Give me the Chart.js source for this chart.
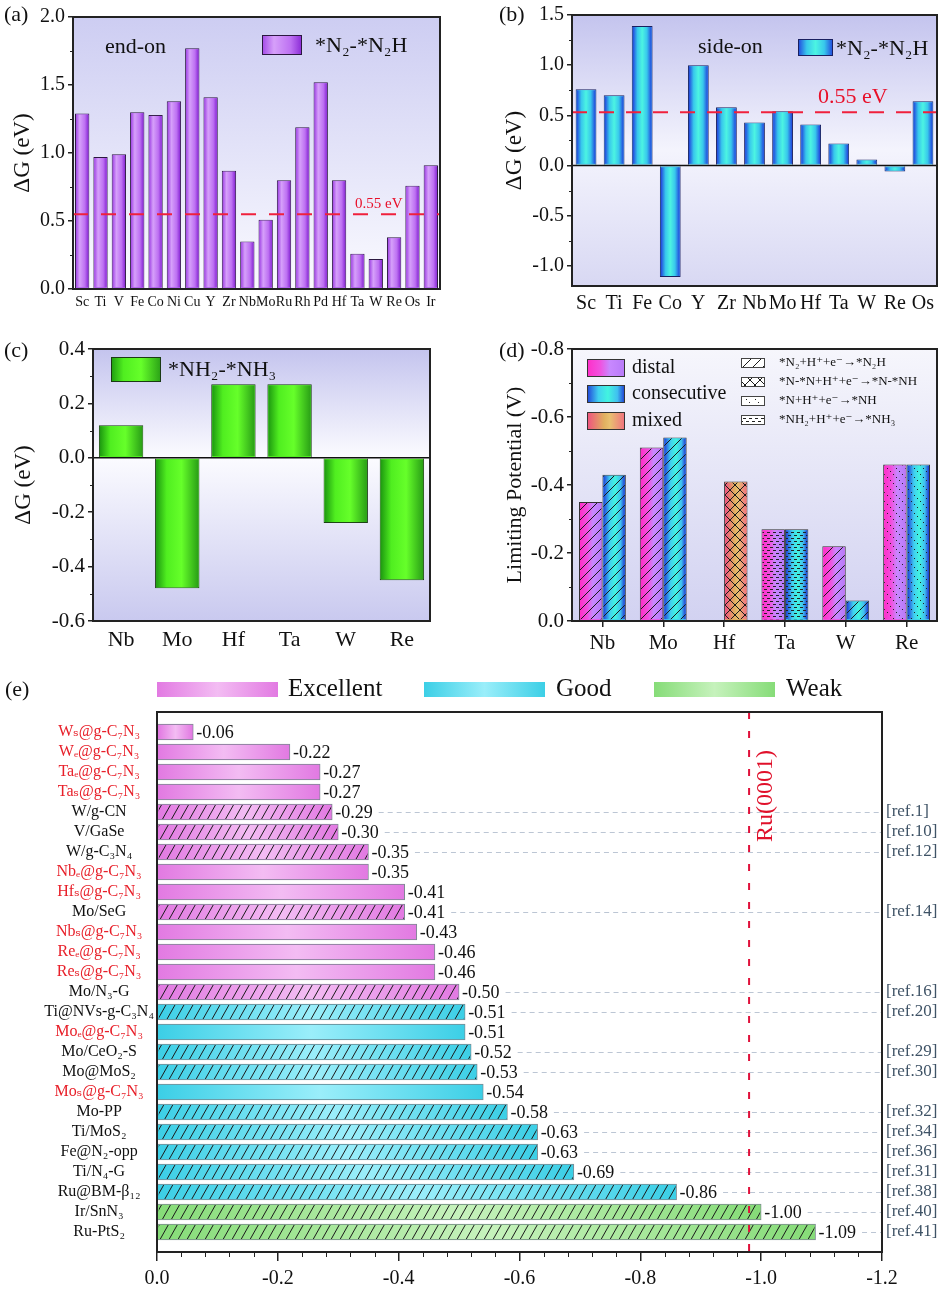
<!DOCTYPE html>
<html><head><meta charset="utf-8">
<script src="https://cdn.jsdelivr.net/npm/chart.js@4.4.1/dist/chart.umd.min.js"></script>
<style>
html,body{margin:0;padding:0;background:#fff;}
body{width:942px;height:1289px;position:relative;overflow:hidden;}
canvas{position:absolute;display:block;}
.pl{position:absolute;font-family:'Liberation Serif','DejaVu Serif',serif;font-size:22px;line-height:22px;color:#111;}
</style></head>
<body>
<canvas id="ca" width="470" height="320" style="left:0;top:0"></canvas>
<canvas id="cb" width="472" height="320" style="left:470px;top:0"></canvas>
<canvas id="cc" width="470" height="330" style="left:0;top:330px"></canvas>
<canvas id="cd" width="472" height="330" style="left:470px;top:330px"></canvas>
<canvas id="ce" width="942" height="629" style="left:0;top:660px"></canvas>
<div class="pl" style="left:4px;top:3px">(a)</div>
<div class="pl" style="left:499px;top:3px">(b)</div>
<div class="pl" style="left:4px;top:339px">(c)</div>
<div class="pl" style="left:499px;top:339px">(d)</div>
<div class="pl" style="left:5px;top:678px">(e)</div>
<script>
// ---------------- DATA ----------------
// (a) end-on  *N2-*N2H
const catA = ['Sc','Ti','V','Fe','Co','Ni','Cu','Y','Zr','Nb','Mo','Ru','Rh','Pd','Hf','Ta','W','Re','Os','Ir'];
const valA = [1.29,0.97,0.99,1.30,1.28,1.38,1.77,1.41,0.87,0.35,0.51,0.80,1.19,1.52,0.80,0.26,0.22,0.38,0.76,0.91];
const refLineA = 0.55;
// (b) side-on *N2-*N2H
const catB = ['Sc','Ti','Fe','Co','Y','Zr','Nb','Mo','Hf','Ta','W','Re','Os'];
const valB = [0.76,0.70,1.39,-1.11,1.00,0.58,0.43,0.54,0.41,0.22,0.06,-0.06,0.64];
const refLineB = 0.53;
// (c) *NH2-*NH3
const catC = ['Nb','Mo','Hf','Ta','W','Re'];
const valC = [0.12,-0.48,0.27,0.27,-0.24,-0.45];
// (d) limiting potential
const catD = ['Nb','Mo','Hf','Ta','W','Re'];
const distalD = [-0.35,-0.51,null,-0.27,-0.22,-0.46];
const consecD = [-0.43,-0.54,null,-0.27,-0.06,-0.46];
const mixedD  = [null,null,-0.41,null,null,null];
const stepDistal = ['N2H','N2H',null,'NH3','N2H','NH'];
const stepConsec = ['N2H','N2H',null,'NH3','N2H','NH'];
const stepMixed  = [null,null,'NNH',null,null,null];
const stepNames = ['*N₂+H⁺+e⁻→*N₂H','*N-*N+H⁺+e⁻→*N-*NH','*N+H⁺+e⁻→*NH','*NH₂+H⁺+e⁻→*NH₃'];
const stepKeys  = ['N2H','NNH','NH','NH3'];
// (e) comparison
const catE = ['Wₛ@g-C₇N₃','Wₑ@g-C₇N₃','Taₑ@g-C₇N₃','Taₛ@g-C₇N₃','W/g-CN','V/GaSe','W/g-C₃N₄','Nbₑ@g-C₇N₃','Hfₛ@g-C₇N₃','Mo/SeG','Nbₛ@g-C₇N₃','Reₑ@g-C₇N₃','Reₛ@g-C₇N₃','Mo/N₃-G','Ti@NVs-g-C₃N₄','Moₑ@g-C₇N₃','Mo/CeO₂-S','Mo@MoS₂','Moₛ@g-C₇N₃','Mo-PP','Ti/MoS₂','Fe@N₂-opp','Ti/N₄-G','Ru@BM-β₁₂','Ir/SnN₃','Ru-PtS₂'];
const valE = [-0.06,-0.22,-0.27,-0.27,-0.29,-0.30,-0.35,-0.35,-0.41,-0.41,-0.43,-0.46,-0.46,-0.50,-0.51,-0.51,-0.52,-0.53,-0.54,-0.58,-0.63,-0.63,-0.69,-0.86,-1.00,-1.09];
const refE = ['','','','','ref.1','ref.10','ref.12','','','ref.14','','','','ref.16','ref.20','','ref.29','ref.30','','ref.32','ref.34','ref.36','ref.31','ref.38','ref.40','ref.41'];
const gradeE = ['Excellent','Excellent','Excellent','Excellent','Excellent','Excellent','Excellent','Excellent','Excellent','Excellent','Excellent','Excellent','Excellent','Excellent','Good','Good','Good','Good','Good','Good','Good','Good','Good','Good','Weak','Weak'];
const gradeNames = ['Excellent','Good','Weak'];
const ru0001 = -0.98;
const ticksE = [0,-0.2,-0.4,-0.6,-0.8,-1.0,-1.2];

// ---------------- STYLE / HELPERS ----------------
const FONT = "'Liberation Serif','DejaVu Serif',serif";
Chart.defaults.font.family = FONT;
Chart.defaults.color = '#111';
const fmt1 = v => (Math.abs(v) < 1e-9 ? 0 : v).toFixed(1);

function grad(ctx,x0,y0,x1,y1,stops){const g=ctx.createLinearGradient(x0,y0,x1,y1);stops.forEach(s=>g.addColorStop(s[0],s[1]));return g;}
function txt(ctx,s,x,y,font,color,align,base){ctx.save();ctx.font=font;ctx.fillStyle=color;ctx.textAlign=align||'left';ctx.textBaseline=base||'middle';ctx.fillText(s,x,y);ctx.restore();}
function gbox(ctx,x,y,w,h,stops,border,pat){ctx.save();ctx.fillStyle=stops?grad(ctx,x,0,x+w,0,stops):'#fff';ctx.fillRect(x,y,w,h);if(pat){ctx.fillStyle=getPat(ctx,pat);ctx.fillRect(x,y,w,h);}ctx.strokeStyle=border;ctx.lineWidth=1;ctx.strokeRect(x+0.5,y+0.5,w-1,h-1);ctx.restore();}

const PATS = {
  slashE:{w:9,h:16,lw:1,c:'#1a1a1a',kind:'/'},
  slash:{w:10,h:10,lw:1,c:'#1a1a1a',kind:'/'},
  cross:{w:10,h:10,lw:1,c:'#1a1a1a',kind:'x'},
  dotback:{w:9,h:9,lw:1,c:'#222',kind:'d\\'},
  dotrow:{w:6,h:6,lw:1,c:'#222',kind:'-'}
};
const stepPat = {N2H:'slash',NNH:'cross',NH:'dotback',NH3:'dotrow'};
const patCache = new Map();
function getPat(ctx,name){
  if(patCache.has(name)) return patCache.get(name);
  const d=PATS[name]; const c=document.createElement('canvas'); c.width=d.w; c.height=d.h;
  const g=c.getContext('2d'); const w=d.w,h=d.h;
  g.strokeStyle=d.c; g.fillStyle=d.c; g.lineWidth=d.lw;
  if(d.kind==='/'||d.kind==='x'){g.beginPath();for(const dx of [-w,0,w]){g.moveTo(dx,h);g.lineTo(dx+w,0);}g.stroke();}
  if(d.kind==='x'){g.beginPath();for(const dx of [-w,0,w]){g.moveTo(dx,0);g.lineTo(dx+w,h);}g.stroke();}
  if(d.kind==='d\\'){for(let k=0;k<3;k++){g.fillRect(k*3,k*3,1,1);}}
  if(d.kind==='-'){g.fillRect(0,1,3,1);g.fillRect(3,4,3,1);}
  const p=ctx.createPattern(c,'repeat'); patCache.set(name,p); return p;
}
function barRect(el){
  const p=el.getProps(['x','y','base','width','height','horizontal'],true);
  if(p.horizontal) return {l:Math.min(p.x,p.base),r:Math.max(p.x,p.base),t:p.y-p.height/2,b:p.y+p.height/2};
  return {l:p.x-p.width/2,r:p.x+p.width/2,t:Math.min(p.y,p.base),b:Math.max(p.y,p.base)};
}
function drawBars(chart,gradFor,hatchFor){
  const ctx=chart.ctx;
  ctx.save();
  chart.data.datasets.forEach((ds,di)=>{
    chart.getDatasetMeta(di).data.forEach((el,i)=>{
      if(ds.data[i]==null) return;
      const r=barRect(el); const l=r.l+1,rr=r.r-1,t=r.t+1,b=r.b-1;
      if(rr<=l||b<=t) return;
      ctx.fillStyle=grad(ctx,l,0,rr,0,gradFor(di,i)); ctx.fillRect(l,t,rr-l,b-t);
      const h=hatchFor?hatchFor(di,i):null;
      if(h){ctx.fillStyle=getPat(ctx,h);ctx.fillRect(l,t,rr-l,b-t);}
    });
  });
  ctx.restore();
}
function framePlugin(bgStops){
  return {id:'frame',
    beforeDraw(chart){const a=chart.chartArea,ctx=chart.ctx;if(bgStops){ctx.save();ctx.fillStyle=grad(ctx,0,a.top,0,a.bottom,bgStops);ctx.fillRect(a.left,a.top,a.right-a.left,a.bottom-a.top);ctx.restore();}},
    afterDraw(chart){const a=chart.chartArea,ctx=chart.ctx;ctx.save();ctx.strokeStyle='#222';ctx.lineWidth=2;ctx.strokeRect(a.left,a.top,a.right-a.left,a.bottom-a.top);ctx.restore();}
  };
}
function minorY(chart,step,major,len){
  const s=chart.scales.y,ctx=chart.ctx,a=chart.chartArea;
  const k0=Math.ceil(s.min/step-1e-6),k1=Math.floor(s.max/step+1e-6);
  ctx.save();ctx.strokeStyle='#222';ctx.lineWidth=1;ctx.beginPath();
  for(let k=k0;k<=k1;k++){const v=k*step,q=v/major;if(Math.abs(q-Math.round(q))<1e-6)continue;const p=Math.round(s.getPixelForValue(v))+0.5;ctx.moveTo(a.left,p);ctx.lineTo(a.left-len,p);}
  ctx.stroke();ctx.restore();
}
function hLine(chart,v,color,w,dash){const a=chart.chartArea,ctx=chart.ctx,y=chart.scales.y.getPixelForValue(v);ctx.save();ctx.strokeStyle=color;ctx.lineWidth=w;if(dash)ctx.setLineDash(dash);ctx.beginPath();ctx.moveTo(a.left,y);ctx.lineTo(a.right,y);ctx.stroke();ctx.restore();return y;}

function yCfg(o){return {min:o.min,max:o.max,reverse:!!o.reverse,
  ticks:{stepSize:o.step,includeBounds:false,font:{size:o.fs},color:'#111',padding:3,callback:v=>fmt1(v)},
  grid:{display:true,drawOnChartArea:false,drawTicks:true,tickLength:5,color:'#222',lineWidth:1.5},
  border:{display:false},
  title:{display:true,text:o.title,font:{size:o.tfs},color:'#111',padding:{top:o.tpad,bottom:0}},
  afterFit(s){s.width=o.width;}};}
function xCfg(o){return {offset:true,
  ticks:{font:{size:o.fs},color:'#111',padding:o.pad,autoSkip:false,maxRotation:0,minRotation:0},
  grid:{display:!!o.tl,drawOnChartArea:false,offset:false,drawTicks:!!o.tl,tickLength:o.tl||0,color:'#222',lineWidth:1.5},
  border:{display:false},
  afterFit(s){s.height=o.height;}};}
const baseOpts = pad => ({responsive:false,animation:false,events:[],layout:{padding:pad},plugins:{legend:{display:false},tooltip:{enabled:false}}});

// ---------------- (a) ----------------
const GA=[[0,'#a348e6'],[0.3,'#d6a0fa'],[0.72,'#bd70f2'],[1,'#8a2ad6']];
new Chart(document.getElementById('ca'),{type:'bar',
  data:{labels:catA,datasets:[{label:'*N₂-*N₂H',data:valA,backgroundColor:'#b060ee',borderColor:'#2b1840',borderWidth:1,barPercentage:0.78,categoryPercentage:1}]},
  options:Object.assign(baseOpts({left:0,top:17,right:30,bottom:0}),{scales:{
    x:xCfg({fs:14,pad:5,height:31}),
    y:yCfg({min:0,max:2,step:0.5,fs:20,title:'ΔG (eV)',tfs:23,tpad:9,width:73})}}),
  plugins:[framePlugin([[0,'#cdcdf2'],[1,'#fafaff']]),{id:'annA',
    afterDatasetsDraw(chart){
      drawBars(chart,()=>GA);
      const y=hLine(chart,refLineA,'#f0203c',2,[15,13]);
      txt(chart.ctx,'0.55 eV',355,y-10,'15px '+FONT,'#e8102a');
      txt(chart.ctx,'end-on',105,47,'22px '+FONT,'#111');
      gbox(chart.ctx,262,35,40,20,GA,'#2b1840');
      txt(chart.ctx,'*N₂-*N₂H',315,46,'22px '+FONT,'#111');
    },
    afterDraw(chart){minorY(chart,0.25,0.5,3);}}]
});

// ---------------- (b) ----------------
const GB=[[0,'#2244dd'],[0.25,'#38c8ec'],[0.5,'#4cf4e2'],[0.75,'#38c8ec'],[1,'#2244dd']];
new Chart(document.getElementById('cb'),{type:'bar',
  data:{labels:catB,datasets:[{label:'*N₂-*N₂H',data:valB,backgroundColor:'#38c8ec',borderColor:'#1a2060',borderWidth:1,barPercentage:0.74,categoryPercentage:1}]},
  options:Object.assign(baseOpts({left:0,top:15,right:5,bottom:0}),{scales:{
    x:xCfg({fs:20,pad:6,height:34}),
    y:yCfg({min:-1.2,max:1.5,step:0.5,fs:20,title:'ΔG (eV)',tfs:23,tpad:31,width:102})}}),
  plugins:[framePlugin([[0,'#c4c4ee'],[0.5,'#f4f4fd'],[1,'#d8d8f3']]),{id:'annB',
    afterDatasetsDraw(chart){
      drawBars(chart,()=>GB);
      hLine(chart,0,'#111',1.5);
      const y=hLine(chart,refLineB,'#f0203c',2,[15,12]);
      txt(chart.ctx,'0.55 eV',348,97,'22px '+FONT,'#e8102a');
      txt(chart.ctx,'side-on',228,47,'22px '+FONT,'#111');
      gbox(chart.ctx,328,39,35,17,GB,'#1a2060');
      txt(chart.ctx,'*N₂-*N₂H',366,49,'22px '+FONT,'#111');
    },
    afterDraw(chart){minorY(chart,0.25,0.5,3);}}]
});

// ---------------- (c) ----------------
const GC=[[0,'#1e9a10'],[0.25,'#50ee20'],[0.6,'#66ff2a'],[1,'#2aa016']];
new Chart(document.getElementById('cc'),{type:'bar',
  data:{labels:catC,datasets:[{label:'*NH₂-*NH₃',data:valC,backgroundColor:'#50ee20',borderColor:'#1a3a14',borderWidth:1,barPercentage:0.79,categoryPercentage:1}]},
  options:Object.assign(baseOpts({left:0,top:19,right:40,bottom:0}),{scales:{
    x:xCfg({fs:22,pad:6,height:39}),
    y:yCfg({min:-0.6,max:0.4,step:0.2,fs:21,title:'ΔG (eV)',tfs:23,tpad:10,width:93})}}),
  plugins:[framePlugin([[0,'#c4c4ee'],[0.4,'#fbfbff'],[1,'#c9c9ef']]),{id:'annC',
    afterDatasetsDraw(chart){
      drawBars(chart,()=>GC);
      hLine(chart,0,'#111',1.5);
      gbox(chart.ctx,111,27,50,25,GC,'#1a3a14');
      txt(chart.ctx,'*NH₂-*NH₃',168,40,'22px '+FONT,'#111');
    },
    afterDraw(chart){minorY(chart,0.1,0.2,3);}}]
});

// ---------------- (d) ----------------
const GD_dist=[[0,'#ff2ec8'],[0.35,'#f052e0'],[0.6,'#c888ff'],[1,'#b87af8']];
const GD_cons=[[0,'#2040d8'],[0.3,'#40d0f0'],[0.55,'#42f4e0'],[0.8,'#40c0f0'],[1,'#2038d0']];
const GD_mix=[[0,'#f05080'],[0.45,'#e0b060'],[0.6,'#e8c070'],[1,'#f07080']];
const stepsD=[stepDistal,stepConsec,stepMixed];
new Chart(document.getElementById('cd'),{type:'bar',
  data:{labels:catD,datasets:[
    {label:'distal',data:distalD,stack:'a',backgroundColor:'#f052e0',borderColor:'#333',borderWidth:1,barPercentage:1,categoryPercentage:0.77},
    {label:'consecutive',data:consecD,stack:'b',backgroundColor:'#40d0f0',borderColor:'#333',borderWidth:1,barPercentage:1,categoryPercentage:0.77},
    {label:'mixed',data:mixedD,stack:'b',backgroundColor:'#e0b060',borderColor:'#333',borderWidth:1,barPercentage:1,categoryPercentage:0.77}]},
  options:Object.assign(baseOpts({left:0,top:19,right:5,bottom:0}),{scales:{
    x:xCfg({fs:21,pad:4,height:39,tl:6}),
    y:yCfg({min:-0.8,max:0,step:0.2,reverse:true,fs:21,title:'Limiting Potential (V)',tfs:22,tpad:32,width:102})}}),
  plugins:[framePlugin([[0,'#f6f6fc'],[1,'#d2d2f1']]),{id:'annD',
    afterDatasetsDraw(chart){
      const G=[GD_dist,GD_cons,GD_mix];
      drawBars(chart,(di)=>G[di],(di,i)=>{const s=stepsD[di][i];return s?stepPat[s]:null;});
      const ctx=chart.ctx;
      gbox(ctx,117,29,38,18,GD_dist,'#333');
      gbox(ctx,117,55,38,18,GD_cons,'#333');
      gbox(ctx,117,82,38,18,GD_mix,'#333');
      txt(ctx,'distal',162,38,'20px '+FONT,'#111');
      txt(ctx,'consecutive',162,64,'20px '+FONT,'#111');
      txt(ctx,'mixed',162,91,'20px '+FONT,'#111');
      const ys=[33,52,71,90];
      stepKeys.forEach((k,j)=>{gbox(ctx,271,ys[j]-5,24,10,null,'#444',stepPat[k]);txt(ctx,stepNames[j],309,ys[j],'13px '+FONT,'#111');});
    },
    afterDraw(chart){minorY(chart,0.1,0.2,3);}}]
});

// ---------------- (e) ----------------
const GE={Excellent:[[0,'#e27ae2'],[0.5,'#f3bcf3'],[1,'#e27ae2']],Good:[[0,'#3ccfe6'],[0.5,'#9aeefa'],[1,'#3ccfe6']],Weak:[[0,'#86dc78'],[0.5,'#c6f2bc'],[1,'#86dc78']]};
const baseE={Excellent:'#e27ae2',Good:'#3ccfe6',Weak:'#86dc78'};
const labelsE=['',...catE,''];
const dataE=[null,...valE,null];
new Chart(document.getElementById('ce'),{type:'bar',
  data:{labels:labelsE,datasets:[{label:'UL',data:dataE,
    backgroundColor:labelsE.map((l,i)=>i>0&&i<=catE.length?baseE[gradeE[i-1]]:'#fff'),
    borderColor:'#7d8a92',borderWidth:1,barThickness:16}]},
  options:Object.assign(baseOpts({left:0,top:52,right:60,bottom:0}),{indexAxis:'y',scales:{
    x:{type:'linear',min:-1.2,max:0,reverse:true,position:'bottom',
      afterBuildTicks(s){s.ticks=ticksE.map(v=>({value:v}));},
      ticks:{font:{size:20},color:'#111',padding:6,callback:v=>fmt1(v)},
      grid:{display:true,drawOnChartArea:false,drawTicks:true,tickLength:9,color:'#222',lineWidth:1.5},
      border:{display:false},afterFit(s){s.height=37;}},
    y:{type:'category',offset:false,position:'left',
      ticks:{font:{size:16},autoSkip:false,crossAlign:'center',padding:3,
        color:c=>{const i=c.index-1;return (i>=0&&i<refE.length&&refE[i]==='')?'#e8202a':'#111';}},
      grid:{display:false,drawTicks:false},border:{display:false},afterFit(s){s.width=157;}}}}),
  plugins:[framePlugin(null),{id:'annE',
    afterDatasetsDraw(chart){
      const ctx=chart.ctx,a=chart.chartArea;
      drawBars(chart,(di,i)=>GE[gradeE[i-1]],(di,i)=>refE[i-1]?'slashE':null);
      const meta=chart.getDatasetMeta(0);
      meta.data.forEach((el,i)=>{
        const v=dataE[i]; if(v==null) return;
        const r=barRect(el); const yc=(r.t+r.b)/2;
        const s=v.toFixed(2);
        ctx.save();ctx.font='18px '+FONT;const w=ctx.measureText(s).width;ctx.restore();
        txt(ctx,s,r.r+3,yc+1,'18px '+FONT,'#111');
        const ref=refE[i-1];
        if(ref){
          ctx.save();ctx.strokeStyle='#bcc6d4';ctx.lineWidth=1;ctx.setLineDash([5,4]);
          ctx.beginPath();ctx.moveTo(r.r+3+w+6,Math.round(yc)+0.5);ctx.lineTo(a.right,Math.round(yc)+0.5);ctx.stroke();ctx.restore();
          txt(ctx,'['+ref+']',a.right+4,yc,'17px '+FONT,'#3f5366');
        }
      });
      const xr=chart.scales.x.getPixelForValue(ru0001);
      ctx.save();ctx.strokeStyle='#e0103a';ctx.lineWidth=2;ctx.setLineDash([7,12]);
      ctx.beginPath();ctx.moveTo(xr,a.top);ctx.lineTo(xr,a.bottom);ctx.stroke();ctx.restore();
      ctx.save();ctx.translate(xr+17,136);ctx.rotate(-Math.PI/2);
      ctx.font='24px '+FONT;ctx.fillStyle='#e0102a';ctx.textAlign='center';ctx.textBaseline='middle';ctx.fillText('Ru(0001)',0,0);ctx.restore();
      // legend
      const lx=[157,424,654],tx=[288,556,786];
      gradeNames.forEach((g,j)=>{ctx.save();ctx.fillStyle=grad(ctx,lx[j],0,lx[j]+121,0,GE[g]);ctx.fillRect(lx[j],22,121,15);ctx.restore();
        txt(ctx,g,tx[j],29,'25px '+FONT,'#111');});
    },
    afterDraw(chart){
      const s=chart.scales.x,ctx=chart.ctx,a=chart.chartArea;
      ctx.save();ctx.strokeStyle='#222';ctx.lineWidth=1;ctx.beginPath();
      for(let k=1;k<30;k++){if(k%5===0)continue;const p=Math.round(s.getPixelForValue(-0.04*k))+0.5;ctx.moveTo(p,a.bottom);ctx.lineTo(p,a.bottom+5);}
      ctx.stroke();ctx.restore();
    }}]
});
</script>
</body></html>
